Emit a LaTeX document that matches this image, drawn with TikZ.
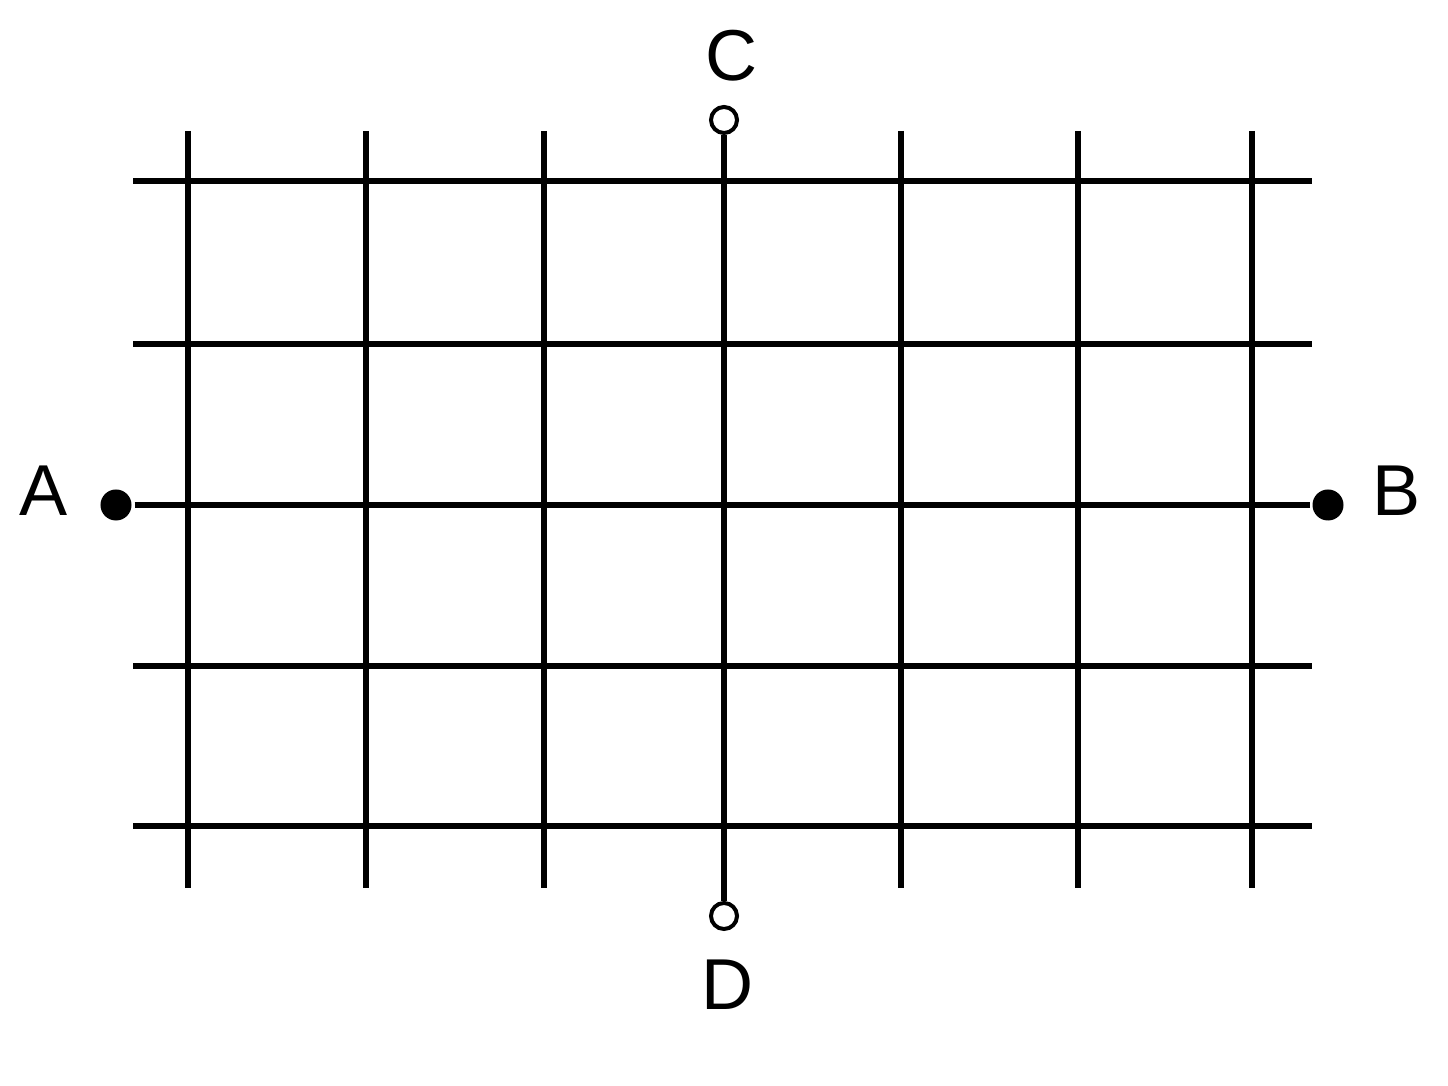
\documentclass[tikz,border=0pt]{standalone}
\usepackage{fontspec}
\setmainfont{Liberation Sans}
\usepackage{tikz}
\usetikzlibrary{positioning}

\begin{document}
\begin{tikzpicture}[x=0.01cm,y=-0.01cm,line width=0.06cm,
        terminal/.style={circle,fill=black,inner sep=0pt,minimum size=0.31cm},
        probe/.style={circle,draw=black,fill=white,line width=0.04cm,inner sep=0pt,minimum size=0.26cm},
        letter/.style={font=\fontsize{20.5}{24}\selectfont,inner sep=0pt}]
    \useasboundingbox (0,0) rectangle (1448,1086);

      % grid wires
      \foreach \y in {181,344,666,826}
        \draw (133,\y) -- (1312,\y);
      \foreach \x in {188,366,544,901,1078,1252}
        \draw (\x,131) -- (\x,888);

      \node[terminal] (A) at (116,505)  {};
      \node[terminal] (B) at (1328,505) {};
      \node[probe]    (C) at (724,120)  {};
      \node[probe]    (D) at (724,916)  {};

      \draw (A) -- (B);
      \draw (C) -- (D);

      \node[letter] (lA) at (44,491)   {A};
      \node[letter] (lB) at (1397,491) {B};
      \node[letter] (lC) at (732,56)   {C};
      \node[letter] (lD) at (728,985)  {D};
    \end{tikzpicture}
\end{document}
